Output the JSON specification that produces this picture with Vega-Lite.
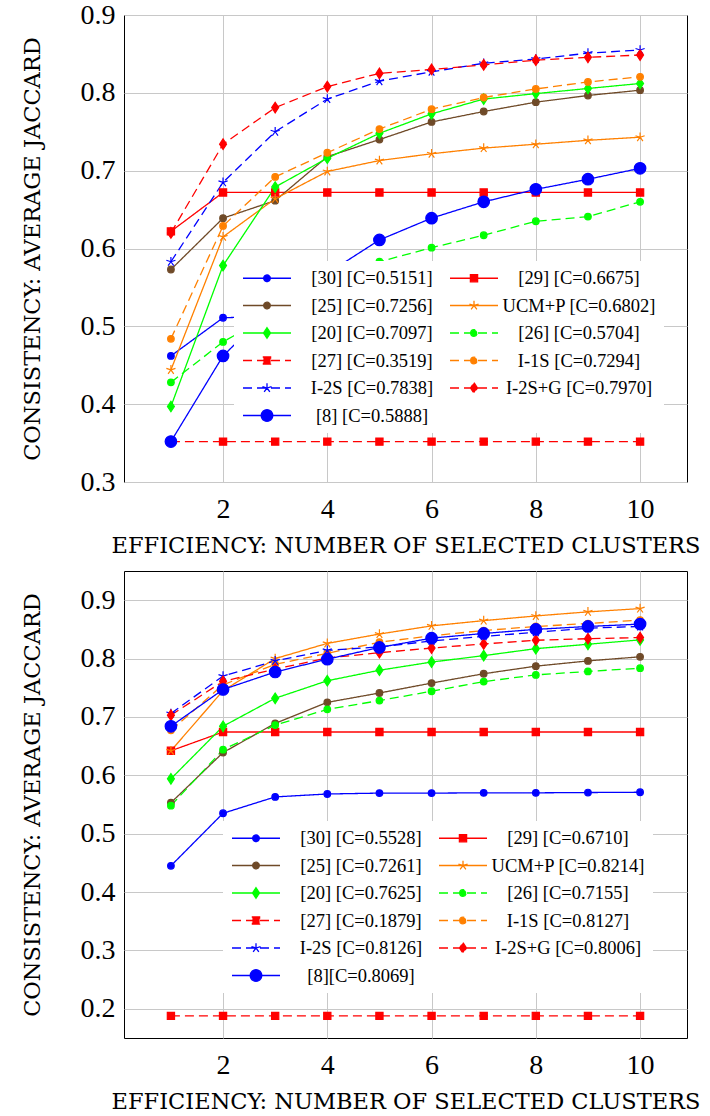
{
  "$schema": "https://vega.github.io/schema/vega-lite/v6.json",
  "padding": {"left": 20, "top": 0, "right": 0, "bottom": 0},
  "spacing": 13,
  "datasets": {
    "top": [
      {"s":"[30]","x":1,"y":0.462},{"s":"[30]","x":2,"y":0.511},{"s":"[30]","x":3,"y":0.513},{"s":"[30]","x":4,"y":0.517},{"s":"[30]","x":5,"y":0.52},{"s":"[30]","x":6,"y":0.522},{"s":"[30]","x":7,"y":0.524},{"s":"[30]","x":8,"y":0.526},{"s":"[30]","x":9,"y":0.527},{"s":"[30]","x":10,"y":0.529},
      {"s":"[29]","x":1,"y":0.622},{"s":"[29]","x":2,"y":0.672},{"s":"[29]","x":3,"y":0.672},{"s":"[29]","x":4,"y":0.672},{"s":"[29]","x":5,"y":0.672},{"s":"[29]","x":6,"y":0.672},{"s":"[29]","x":7,"y":0.672},{"s":"[29]","x":8,"y":0.672},{"s":"[29]","x":9,"y":0.672},{"s":"[29]","x":10,"y":0.672},
      {"s":"[25]","x":1,"y":0.573},{"s":"[25]","x":2,"y":0.639},{"s":"[25]","x":3,"y":0.6615},{"s":"[25]","x":4,"y":0.718},{"s":"[25]","x":5,"y":0.74},{"s":"[25]","x":6,"y":0.7626},{"s":"[25]","x":7,"y":0.776},{"s":"[25]","x":8,"y":0.788},{"s":"[25]","x":9,"y":0.7966},{"s":"[25]","x":10,"y":0.8034},
      {"s":"UCM+P","x":1,"y":0.444},{"s":"UCM+P","x":2,"y":0.615},{"s":"UCM+P","x":3,"y":0.664},{"s":"UCM+P","x":4,"y":0.699},{"s":"UCM+P","x":5,"y":0.713},{"s":"UCM+P","x":6,"y":0.7217},{"s":"UCM+P","x":7,"y":0.729},{"s":"UCM+P","x":8,"y":0.734},{"s":"UCM+P","x":9,"y":0.739},{"s":"UCM+P","x":10,"y":0.743},
      {"s":"[20]","x":1,"y":0.397},{"s":"[20]","x":2,"y":0.578},{"s":"[20]","x":3,"y":0.679},{"s":"[20]","x":4,"y":0.716},{"s":"[20]","x":5,"y":0.748},{"s":"[20]","x":6,"y":0.773},{"s":"[20]","x":7,"y":0.792},{"s":"[20]","x":8,"y":0.799},{"s":"[20]","x":9,"y":0.8056},{"s":"[20]","x":10,"y":0.812},
      {"s":"[26]","x":1,"y":0.428},{"s":"[26]","x":2,"y":0.48},{"s":"[26]","x":3,"y":0.518},{"s":"[26]","x":4,"y":0.541},{"s":"[26]","x":5,"y":0.583},{"s":"[26]","x":6,"y":0.601},{"s":"[26]","x":7,"y":0.617},{"s":"[26]","x":8,"y":0.635},{"s":"[26]","x":9,"y":0.641},{"s":"[26]","x":10,"y":0.66},
      {"s":"[27]","x":1,"y":0.3519},{"s":"[27]","x":2,"y":0.3519},{"s":"[27]","x":3,"y":0.3519},{"s":"[27]","x":4,"y":0.3519},{"s":"[27]","x":5,"y":0.3519},{"s":"[27]","x":6,"y":0.3519},{"s":"[27]","x":7,"y":0.3519},{"s":"[27]","x":8,"y":0.3519},{"s":"[27]","x":9,"y":0.3519},{"s":"[27]","x":10,"y":0.3519},
      {"s":"I-1S","x":1,"y":0.484},{"s":"I-1S","x":2,"y":0.629},{"s":"I-1S","x":3,"y":0.692},{"s":"I-1S","x":4,"y":0.723},{"s":"I-1S","x":5,"y":0.7535},{"s":"I-1S","x":6,"y":0.779},{"s":"I-1S","x":7,"y":0.794},{"s":"I-1S","x":8,"y":0.805},{"s":"I-1S","x":9,"y":0.814},{"s":"I-1S","x":10,"y":0.8206},
      {"s":"I-2S","x":1,"y":0.583},{"s":"I-2S","x":2,"y":0.685},{"s":"I-2S","x":3,"y":0.75},{"s":"I-2S","x":4,"y":0.792},{"s":"I-2S","x":5,"y":0.815},{"s":"I-2S","x":6,"y":0.827},{"s":"I-2S","x":7,"y":0.838},{"s":"I-2S","x":8,"y":0.8434},{"s":"I-2S","x":9,"y":0.851},{"s":"I-2S","x":10,"y":0.855},
      {"s":"I-2S+G","x":1,"y":0.62},{"s":"I-2S+G","x":2,"y":0.734},{"s":"I-2S+G","x":3,"y":0.781},{"s":"I-2S+G","x":4,"y":0.808},{"s":"I-2S+G","x":5,"y":0.825},{"s":"I-2S+G","x":6,"y":0.83},{"s":"I-2S+G","x":7,"y":0.836},{"s":"I-2S+G","x":8,"y":0.842},{"s":"I-2S+G","x":9,"y":0.8456},{"s":"I-2S+G","x":10,"y":0.8486},
      {"s":"[8]","x":1,"y":0.352},{"s":"[8]","x":2,"y":0.462},{"s":"[8]","x":3,"y":0.528},{"s":"[8]","x":4,"y":0.568},{"s":"[8]","x":5,"y":0.611},{"s":"[8]","x":6,"y":0.639},{"s":"[8]","x":7,"y":0.66},{"s":"[8]","x":8,"y":0.676},{"s":"[8]","x":9,"y":0.689},{"s":"[8]","x":10,"y":0.703}
    ],
    "bottom": [
      {"s":"[30]","x":1,"y":0.445},{"s":"[30]","x":2,"y":0.535},{"s":"[30]","x":3,"y":0.563},{"s":"[30]","x":4,"y":0.568},{"s":"[30]","x":5,"y":0.5695},{"s":"[30]","x":6,"y":0.5695},{"s":"[30]","x":7,"y":0.57},{"s":"[30]","x":8,"y":0.57},{"s":"[30]","x":9,"y":0.5705},{"s":"[30]","x":10,"y":0.571},
      {"s":"[29]","x":1,"y":0.642},{"s":"[29]","x":2,"y":0.6742},{"s":"[29]","x":3,"y":0.6742},{"s":"[29]","x":4,"y":0.6742},{"s":"[29]","x":5,"y":0.6742},{"s":"[29]","x":6,"y":0.6742},{"s":"[29]","x":7,"y":0.6742},{"s":"[29]","x":8,"y":0.6742},{"s":"[29]","x":9,"y":0.6742},{"s":"[29]","x":10,"y":0.6742},
      {"s":"[25]","x":1,"y":0.553},{"s":"[25]","x":2,"y":0.639},{"s":"[25]","x":3,"y":0.689},{"s":"[25]","x":4,"y":0.725},{"s":"[25]","x":5,"y":0.741},{"s":"[25]","x":6,"y":0.758},{"s":"[25]","x":7,"y":0.774},{"s":"[25]","x":8,"y":0.787},{"s":"[25]","x":9,"y":0.796},{"s":"[25]","x":10,"y":0.803},
      {"s":"UCM+P","x":1,"y":0.642},{"s":"UCM+P","x":2,"y":0.745},{"s":"UCM+P","x":3,"y":0.8},{"s":"UCM+P","x":4,"y":0.826},{"s":"UCM+P","x":5,"y":0.842},{"s":"UCM+P","x":6,"y":0.856},{"s":"UCM+P","x":7,"y":0.865},{"s":"UCM+P","x":8,"y":0.873},{"s":"UCM+P","x":9,"y":0.88},{"s":"UCM+P","x":10,"y":0.8856},
      {"s":"[20]","x":1,"y":0.594},{"s":"[20]","x":2,"y":0.684},{"s":"[20]","x":3,"y":0.732},{"s":"[20]","x":4,"y":0.762},{"s":"[20]","x":5,"y":0.78},{"s":"[20]","x":6,"y":0.794},{"s":"[20]","x":7,"y":0.805},{"s":"[20]","x":8,"y":0.817},{"s":"[20]","x":9,"y":0.8245},{"s":"[20]","x":10,"y":0.832},
      {"s":"[26]","x":1,"y":0.548},{"s":"[26]","x":2,"y":0.644},{"s":"[26]","x":3,"y":0.686},{"s":"[26]","x":4,"y":0.713},{"s":"[26]","x":5,"y":0.728},{"s":"[26]","x":6,"y":0.744},{"s":"[26]","x":7,"y":0.7605},{"s":"[26]","x":8,"y":0.772},{"s":"[26]","x":9,"y":0.778},{"s":"[26]","x":10,"y":0.7835},
      {"s":"[27]","x":1,"y":0.1879},{"s":"[27]","x":2,"y":0.1879},{"s":"[27]","x":3,"y":0.1879},{"s":"[27]","x":4,"y":0.1879},{"s":"[27]","x":5,"y":0.1879},{"s":"[27]","x":6,"y":0.1879},{"s":"[27]","x":7,"y":0.1879},{"s":"[27]","x":8,"y":0.1879},{"s":"[27]","x":9,"y":0.1879},{"s":"[27]","x":10,"y":0.1879},
      {"s":"I-1S","x":1,"y":0.677},{"s":"I-1S","x":2,"y":0.755},{"s":"I-1S","x":3,"y":0.79},{"s":"I-1S","x":4,"y":0.809},{"s":"I-1S","x":5,"y":0.828},{"s":"I-1S","x":6,"y":0.839},{"s":"I-1S","x":7,"y":0.848},{"s":"I-1S","x":8,"y":0.855},{"s":"I-1S","x":9,"y":0.86},{"s":"I-1S","x":10,"y":0.866},
      {"s":"I-2S","x":1,"y":0.706},{"s":"I-2S","x":2,"y":0.77},{"s":"I-2S","x":3,"y":0.796},{"s":"I-2S","x":4,"y":0.814},{"s":"I-2S","x":5,"y":0.82},{"s":"I-2S","x":6,"y":0.83},{"s":"I-2S","x":7,"y":0.838},{"s":"I-2S","x":8,"y":0.845},{"s":"I-2S","x":9,"y":0.852},{"s":"I-2S","x":10,"y":0.855},
      {"s":"I-2S+G","x":1,"y":0.703},{"s":"I-2S+G","x":2,"y":0.761},{"s":"I-2S+G","x":3,"y":0.782},{"s":"I-2S+G","x":4,"y":0.801},{"s":"I-2S+G","x":5,"y":0.81},{"s":"I-2S+G","x":6,"y":0.818},{"s":"I-2S+G","x":7,"y":0.825},{"s":"I-2S+G","x":8,"y":0.8314},{"s":"I-2S+G","x":9,"y":0.834},{"s":"I-2S+G","x":10,"y":0.836},
      {"s":"[8]","x":1,"y":0.684},{"s":"[8]","x":2,"y":0.747},{"s":"[8]","x":3,"y":0.777},{"s":"[8]","x":4,"y":0.799},{"s":"[8]","x":5,"y":0.819},{"s":"[8]","x":6,"y":0.835},{"s":"[8]","x":7,"y":0.843},{"s":"[8]","x":8,"y":0.85},{"s":"[8]","x":9,"y":0.855},{"s":"[8]","x":10,"y":0.859}
    ]
  },
  "vconcat": [
    {
      "width": 563, "height": 467,
      "data": {"name": "top"},
      "resolve": {"scale": {"shape": "independent"}, "legend": {"fill": "independent", "stroke": "independent", "shape": "independent", "strokeDash": "independent", "color": "independent"}},
      "encoding": {
        "x": {"field": "x", "type": "quantitative", "scale": {"domain": [0.1, 10.9], "nice": false, "zero": false}, "axis": {"values": [2,4,6,8,10], "title": "EFFICIENCY: NUMBER OF SELECTED CLUSTERS"}},
        "y": {"field": "y", "type": "quantitative", "scale": {"domain": [0.3, 0.9], "nice": false, "zero": false}, "axis": {"values": [0.3,0.4,0.5,0.6,0.7,0.8,0.9], "format": ".1f", "title": "CONSISTENCY: AVERAGE JACCARD"}}
      },
      "layer": [
        {
          "mark": {"type": "line", "strokeWidth": 1.3},
          "encoding": {
            "color": {"field": "s", "type": "nominal", "legend": null, "scale": {"domain": ["[30]","[29]","[25]","UCM+P","[20]","[26]","[27]","I-1S","I-2S","I-2S+G","[8]"], "range": ["#0000ff","#ff0000","#6f4a28","#ff8000","#00ff00","#00ff00","#ff0000","#ff8000","#0000ff","#ff0000","#0000ff"]}},
            "strokeDash": {"field": "s", "type": "nominal", "legend": null, "scale": {"domain": ["[30]","[29]","[25]","UCM+P","[20]","[26]","[27]","I-1S","I-2S","I-2S+G","[8]"], "range": [[1,0],[1,0],[1,0],[1,0],[1,0],[9,5],[9,5],[9,5],[9,5],[9,5],[1,0]]}}
          }
        },
        {
          "mark": {"type": "point", "filled": true, "size": 2304, "strokeWidth": 1.2, "opacity": 1},
          "encoding": {
            "fill": {"field": "s", "type": "nominal", "legend": null, "scale": {"domain": ["[30]","[29]","[25]","UCM+P","[20]","[26]","[27]","I-1S","I-2S","I-2S+G","[8]"], "range": ["#0000ff","#ff0000","#6f4a28","#ff8000","#00ff00","#00ff00","#ff0000","#ff8000","#0000ff","#ff0000","#0000ff"]}},
            "stroke": {"field": "s", "type": "nominal", "legend": null, "scale": {"domain": ["[30]","[29]","[25]","UCM+P","[20]","[26]","[27]","I-1S","I-2S","I-2S+G","[8]"], "range": ["#0000ff","#ff0000","#6f4a28","#ff8000","#00ff00","#00ff00","#ff0000","#ff8000","#0000ff","#ff0000","#0000ff"]}},
            "shape": {"field": "s", "type": "nominal", "legend": null, "scale": {"domain": ["[30]","[29]","[25]","UCM+P","[20]","[26]","[27]","I-1S","I-2S","I-2S+G","[8]"], "range": [
              "M-0.1375,0A0.1375,0.1375,0,1,0,0.1375,0A0.1375,0.1375,0,1,0,-0.1375,0Z",
              "M-0.15,-0.15H0.15V0.15H-0.15Z",
              "M-0.1375,0A0.1375,0.1375,0,1,0,0.1375,0A0.1375,0.1375,0,1,0,-0.1375,0Z",
              "M0,0L0,-0.2M0,0L0.19,-0.062M0,0L0.118,0.162M0,0L-0.118,0.162M0,0L-0.19,-0.062",
              "M0,-0.22L0.145,0L0,0.22L-0.145,0Z",
              "M-0.1375,0A0.1375,0.1375,0,1,0,0.1375,0A0.1375,0.1375,0,1,0,-0.1375,0Z",
              "M-0.15,-0.15H0.15V0.15H-0.15Z",
              "M-0.1375,0A0.1375,0.1375,0,1,0,0.1375,0A0.1375,0.1375,0,1,0,-0.1375,0Z",
              "M0,0L0,-0.2M0,0L0.19,-0.062M0,0L0.118,0.162M0,0L-0.118,0.162M0,0L-0.19,-0.062",
              "M0,-0.22L0.145,0L0,0.22L-0.145,0Z",
              "M-0.24,0A0.24,0.24,0,1,0,0.24,0A0.24,0.24,0,1,0,-0.24,0Z"
            ]}}
          }
        },
        {
          "mark": {"type": "point", "filled": true, "size": 2304, "opacity": 0},
          "encoding": {
            "fill": {"field": "s", "type": "nominal", "scale": {"domain": ["[30]","[29]","[25]","UCM+P","[20]","[26]","[27]","I-1S","I-2S","I-2S+G","[8]"], "range": ["#0000ff","#ff0000","#6f4a28","#ff8000","#00ff00","#00ff00","#ff0000","#ff8000","#0000ff","#ff0000","#0000ff"]},
              "legend": {"title": null, "orient": "none", "direction": "horizontal", "legendX": 110, "legendY": 246, "columns": 2, "columnPadding": 15, "rowPadding": 8.5, "clipHeight": 18, "padding": 8, "fillColor": "white", "symbolSize": 2304, "symbolStrokeWidth": 1.3, "symbolOpacity": 1, "labelFont": "Liberation Serif", "labelFontSize": 18.5, "labelColor": "black", "labelAlign": "center", "labelOffset": 80, "labelLimit": 400, "zindex": 1,
                "labelExpr": "['[30] [C=0.5151]','[29] [C=0.6675]','[25] [C=0.7256]','UCM+P [C=0.6802]','[20] [C=0.7097]','[26] [C=0.5704]','[27] [C=0.3519]','I-1S [C=0.7294]','I-2S [C=0.7838]','I-2S+G [C=0.7970]','[8] [C=0.5888]'][indexof(['[30]','[29]','[25]','UCM+P','[20]','[26]','[27]','I-1S','I-2S','I-2S+G','[8]'], datum.label)]"}},
            "stroke": {"field": "s", "type": "nominal", "scale": {"domain": ["[30]","[29]","[25]","UCM+P","[20]","[26]","[27]","I-1S","I-2S","I-2S+G","[8]"], "range": ["#0000ff","#ff0000","#6f4a28","#ff8000","#00ff00","#00ff00","#ff0000","#ff8000","#0000ff","#ff0000","#0000ff"]},
              "legend": {"title": null, "orient": "none", "direction": "horizontal", "legendX": 110, "legendY": 246, "columns": 2, "columnPadding": 15, "rowPadding": 8.5, "clipHeight": 18, "padding": 8, "fillColor": "white", "symbolSize": 2304, "symbolStrokeWidth": 1.3, "symbolOpacity": 1, "labelFont": "Liberation Serif", "labelFontSize": 18.5, "labelColor": "black", "labelAlign": "center", "labelOffset": 80, "labelLimit": 400, "zindex": 1,
                "labelExpr": "['[30] [C=0.5151]','[29] [C=0.6675]','[25] [C=0.7256]','UCM+P [C=0.6802]','[20] [C=0.7097]','[26] [C=0.5704]','[27] [C=0.3519]','I-1S [C=0.7294]','I-2S [C=0.7838]','I-2S+G [C=0.7970]','[8] [C=0.5888]'][indexof(['[30]','[29]','[25]','UCM+P','[20]','[26]','[27]','I-1S','I-2S','I-2S+G','[8]'], datum.label)]"}},
            "strokeDash": {"field": "s", "type": "nominal", "scale": {"domain": ["[30]","[29]","[25]","UCM+P","[20]","[26]","[27]","I-1S","I-2S","I-2S+G","[8]"], "range": [[1,0],[1,0],[1,0],[1,0],[1,0],[9,5],[9,5],[9,5],[9,5],[9,5],[1,0]]},
              "legend": {"title": null, "orient": "none", "direction": "horizontal", "legendX": 110, "legendY": 246, "columns": 2, "columnPadding": 15, "rowPadding": 8.5, "clipHeight": 18, "padding": 8, "fillColor": "white", "symbolSize": 2304, "symbolStrokeWidth": 1.3, "symbolOpacity": 1, "labelFont": "Liberation Serif", "labelFontSize": 18.5, "labelColor": "black", "labelAlign": "center", "labelOffset": 80, "labelLimit": 400, "zindex": 1,
                "labelExpr": "['[30] [C=0.5151]','[29] [C=0.6675]','[25] [C=0.7256]','UCM+P [C=0.6802]','[20] [C=0.7097]','[26] [C=0.5704]','[27] [C=0.3519]','I-1S [C=0.7294]','I-2S [C=0.7838]','I-2S+G [C=0.7970]','[8] [C=0.5888]'][indexof(['[30]','[29]','[25]','UCM+P','[20]','[26]','[27]','I-1S','I-2S','I-2S+G','[8]'], datum.label)]"}},
            "shape": {"field": "s", "type": "nominal", "scale": {"domain": ["[30]","[29]","[25]","UCM+P","[20]","[26]","[27]","I-1S","I-2S","I-2S+G","[8]"], "range": [
              "M-1,0H1M-0.1375,0A0.1375,0.1375,0,1,0,0.1375,0A0.1375,0.1375,0,1,0,-0.1375,0Z",
              "M-1,0H1M-0.15,-0.15H0.15V0.15H-0.15Z",
              "M-1,0H1M-0.1375,0A0.1375,0.1375,0,1,0,0.1375,0A0.1375,0.1375,0,1,0,-0.1375,0Z",
              "M-1,0H1M0,0L0,-0.2M0,0L0.19,-0.062M0,0L0.118,0.162M0,0L-0.118,0.162M0,0L-0.19,-0.062",
              "M-1,0H1M0,-0.22L0.145,0L0,0.22L-0.145,0Z",
              "M-1,0H1M-0.1375,0A0.1375,0.1375,0,1,0,0.1375,0A0.1375,0.1375,0,1,0,-0.1375,0Z",
              "M-1,0H1M-0.15,-0.15H0.15V0.15H-0.15Z",
              "M-1,0H1M-0.1375,0A0.1375,0.1375,0,1,0,0.1375,0A0.1375,0.1375,0,1,0,-0.1375,0Z",
              "M-1,0H1M0,0L0,-0.2M0,0L0.19,-0.062M0,0L0.118,0.162M0,0L-0.118,0.162M0,0L-0.19,-0.062",
              "M-1,0H1M0,-0.22L0.145,0L0,0.22L-0.145,0Z",
              "M-1,0H1M-0.24,0A0.24,0.24,0,1,0,0.24,0A0.24,0.24,0,1,0,-0.24,0Z"
            ]},
              "legend": {"title": null, "orient": "none", "direction": "horizontal", "legendX": 110, "legendY": 246, "columns": 2, "columnPadding": 15, "rowPadding": 8.5, "clipHeight": 18, "padding": 8, "fillColor": "white", "symbolSize": 2304, "symbolStrokeWidth": 1.3, "symbolOpacity": 1, "labelFont": "Liberation Serif", "labelFontSize": 18.5, "labelColor": "black", "labelAlign": "center", "labelOffset": 80, "labelLimit": 400, "zindex": 1,
                "labelExpr": "['[30] [C=0.5151]','[29] [C=0.6675]','[25] [C=0.7256]','UCM+P [C=0.6802]','[20] [C=0.7097]','[26] [C=0.5704]','[27] [C=0.3519]','I-1S [C=0.7294]','I-2S [C=0.7838]','I-2S+G [C=0.7970]','[8] [C=0.5888]'][indexof(['[30]','[29]','[25]','UCM+P','[20]','[26]','[27]','I-1S','I-2S','I-2S+G','[8]'], datum.label)]"}}
          }
        }
      ]
    },
    {
      "width": 563, "height": 467,
      "data": {"name": "bottom"},
      "resolve": {"scale": {"shape": "independent"}, "legend": {"fill": "independent", "stroke": "independent", "shape": "independent", "strokeDash": "independent", "color": "independent"}},
      "encoding": {
        "x": {"field": "x", "type": "quantitative", "scale": {"domain": [0.1, 10.9], "nice": false, "zero": false}, "axis": {"values": [2,4,6,8,10], "title": "EFFICIENCY: NUMBER OF SELECTED CLUSTERS"}},
        "y": {"field": "y", "type": "quantitative", "scale": {"domain": [0.15, 0.95], "nice": false, "zero": false}, "axis": {"values": [0.2,0.3,0.4,0.5,0.6,0.7,0.8,0.9], "format": ".1f", "title": "CONSISTENCY: AVERAGE JACCARD"}}
      },
      "layer": [
        {
          "mark": {"type": "line", "strokeWidth": 1.3},
          "encoding": {
            "color": {"field": "s", "type": "nominal", "legend": null, "scale": {"domain": ["[30]","[29]","[25]","UCM+P","[20]","[26]","[27]","I-1S","I-2S","I-2S+G","[8]"], "range": ["#0000ff","#ff0000","#6f4a28","#ff8000","#00ff00","#00ff00","#ff0000","#ff8000","#0000ff","#ff0000","#0000ff"]}},
            "strokeDash": {"field": "s", "type": "nominal", "legend": null, "scale": {"domain": ["[30]","[29]","[25]","UCM+P","[20]","[26]","[27]","I-1S","I-2S","I-2S+G","[8]"], "range": [[1,0],[1,0],[1,0],[1,0],[1,0],[9,5],[9,5],[9,5],[9,5],[9,5],[1,0]]}}
          }
        },
        {
          "mark": {"type": "point", "filled": true, "size": 2304, "strokeWidth": 1.2, "opacity": 1},
          "encoding": {
            "fill": {"field": "s", "type": "nominal", "legend": null, "scale": {"domain": ["[30]","[29]","[25]","UCM+P","[20]","[26]","[27]","I-1S","I-2S","I-2S+G","[8]"], "range": ["#0000ff","#ff0000","#6f4a28","#ff8000","#00ff00","#00ff00","#ff0000","#ff8000","#0000ff","#ff0000","#0000ff"]}},
            "stroke": {"field": "s", "type": "nominal", "legend": null, "scale": {"domain": ["[30]","[29]","[25]","UCM+P","[20]","[26]","[27]","I-1S","I-2S","I-2S+G","[8]"], "range": ["#0000ff","#ff0000","#6f4a28","#ff8000","#00ff00","#00ff00","#ff0000","#ff8000","#0000ff","#ff0000","#0000ff"]}},
            "shape": {"field": "s", "type": "nominal", "legend": null, "scale": {"domain": ["[30]","[29]","[25]","UCM+P","[20]","[26]","[27]","I-1S","I-2S","I-2S+G","[8]"], "range": [
              "M-0.1375,0A0.1375,0.1375,0,1,0,0.1375,0A0.1375,0.1375,0,1,0,-0.1375,0Z",
              "M-0.15,-0.15H0.15V0.15H-0.15Z",
              "M-0.1375,0A0.1375,0.1375,0,1,0,0.1375,0A0.1375,0.1375,0,1,0,-0.1375,0Z",
              "M0,0L0,-0.2M0,0L0.19,-0.062M0,0L0.118,0.162M0,0L-0.118,0.162M0,0L-0.19,-0.062",
              "M0,-0.22L0.145,0L0,0.22L-0.145,0Z",
              "M-0.1375,0A0.1375,0.1375,0,1,0,0.1375,0A0.1375,0.1375,0,1,0,-0.1375,0Z",
              "M-0.15,-0.15H0.15V0.15H-0.15Z",
              "M-0.1375,0A0.1375,0.1375,0,1,0,0.1375,0A0.1375,0.1375,0,1,0,-0.1375,0Z",
              "M0,0L0,-0.2M0,0L0.19,-0.062M0,0L0.118,0.162M0,0L-0.118,0.162M0,0L-0.19,-0.062",
              "M0,-0.22L0.145,0L0,0.22L-0.145,0Z",
              "M-0.24,0A0.24,0.24,0,1,0,0.24,0A0.24,0.24,0,1,0,-0.24,0Z"
            ]}}
          }
        },
        {
          "mark": {"type": "point", "filled": true, "size": 2304, "opacity": 0},
          "encoding": {
            "fill": {"field": "s", "type": "nominal", "scale": {"domain": ["[30]","[29]","[25]","UCM+P","[20]","[26]","[27]","I-1S","I-2S","I-2S+G","[8]"], "range": ["#0000ff","#ff0000","#6f4a28","#ff8000","#00ff00","#00ff00","#ff0000","#ff8000","#0000ff","#ff0000","#0000ff"]},
              "legend": {"title": null, "orient": "none", "direction": "horizontal", "legendX": 99, "legendY": 250, "columns": 2, "columnPadding": 15, "rowPadding": 8.5, "clipHeight": 18, "padding": 8, "fillColor": "white", "symbolSize": 2304, "symbolStrokeWidth": 1.3, "symbolOpacity": 1, "labelFont": "Liberation Serif", "labelFontSize": 18.5, "labelColor": "black", "labelAlign": "center", "labelOffset": 80, "labelLimit": 400, "zindex": 1,
                "labelExpr": "['[30] [C=0.5528]','[29] [C=0.6710]','[25] [C=0.7261]','UCM+P [C=0.8214]','[20] [C=0.7625]','[26] [C=0.7155]','[27] [C=0.1879]','I-1S [C=0.8127]','I-2S [C=0.8126]','I-2S+G [C=0.8006]','[8][C=0.8069]'][indexof(['[30]','[29]','[25]','UCM+P','[20]','[26]','[27]','I-1S','I-2S','I-2S+G','[8]'], datum.label)]"}},
            "stroke": {"field": "s", "type": "nominal", "scale": {"domain": ["[30]","[29]","[25]","UCM+P","[20]","[26]","[27]","I-1S","I-2S","I-2S+G","[8]"], "range": ["#0000ff","#ff0000","#6f4a28","#ff8000","#00ff00","#00ff00","#ff0000","#ff8000","#0000ff","#ff0000","#0000ff"]},
              "legend": {"title": null, "orient": "none", "direction": "horizontal", "legendX": 99, "legendY": 250, "columns": 2, "columnPadding": 15, "rowPadding": 8.5, "clipHeight": 18, "padding": 8, "fillColor": "white", "symbolSize": 2304, "symbolStrokeWidth": 1.3, "symbolOpacity": 1, "labelFont": "Liberation Serif", "labelFontSize": 18.5, "labelColor": "black", "labelAlign": "center", "labelOffset": 80, "labelLimit": 400, "zindex": 1,
                "labelExpr": "['[30] [C=0.5528]','[29] [C=0.6710]','[25] [C=0.7261]','UCM+P [C=0.8214]','[20] [C=0.7625]','[26] [C=0.7155]','[27] [C=0.1879]','I-1S [C=0.8127]','I-2S [C=0.8126]','I-2S+G [C=0.8006]','[8][C=0.8069]'][indexof(['[30]','[29]','[25]','UCM+P','[20]','[26]','[27]','I-1S','I-2S','I-2S+G','[8]'], datum.label)]"}},
            "strokeDash": {"field": "s", "type": "nominal", "scale": {"domain": ["[30]","[29]","[25]","UCM+P","[20]","[26]","[27]","I-1S","I-2S","I-2S+G","[8]"], "range": [[1,0],[1,0],[1,0],[1,0],[1,0],[9,5],[9,5],[9,5],[9,5],[9,5],[1,0]]},
              "legend": {"title": null, "orient": "none", "direction": "horizontal", "legendX": 99, "legendY": 250, "columns": 2, "columnPadding": 15, "rowPadding": 8.5, "clipHeight": 18, "padding": 8, "fillColor": "white", "symbolSize": 2304, "symbolStrokeWidth": 1.3, "symbolOpacity": 1, "labelFont": "Liberation Serif", "labelFontSize": 18.5, "labelColor": "black", "labelAlign": "center", "labelOffset": 80, "labelLimit": 400, "zindex": 1,
                "labelExpr": "['[30] [C=0.5528]','[29] [C=0.6710]','[25] [C=0.7261]','UCM+P [C=0.8214]','[20] [C=0.7625]','[26] [C=0.7155]','[27] [C=0.1879]','I-1S [C=0.8127]','I-2S [C=0.8126]','I-2S+G [C=0.8006]','[8][C=0.8069]'][indexof(['[30]','[29]','[25]','UCM+P','[20]','[26]','[27]','I-1S','I-2S','I-2S+G','[8]'], datum.label)]"}},
            "shape": {"field": "s", "type": "nominal", "scale": {"domain": ["[30]","[29]","[25]","UCM+P","[20]","[26]","[27]","I-1S","I-2S","I-2S+G","[8]"], "range": [
              "M-1,0H1M-0.1375,0A0.1375,0.1375,0,1,0,0.1375,0A0.1375,0.1375,0,1,0,-0.1375,0Z",
              "M-1,0H1M-0.15,-0.15H0.15V0.15H-0.15Z",
              "M-1,0H1M-0.1375,0A0.1375,0.1375,0,1,0,0.1375,0A0.1375,0.1375,0,1,0,-0.1375,0Z",
              "M-1,0H1M0,0L0,-0.2M0,0L0.19,-0.062M0,0L0.118,0.162M0,0L-0.118,0.162M0,0L-0.19,-0.062",
              "M-1,0H1M0,-0.22L0.145,0L0,0.22L-0.145,0Z",
              "M-1,0H1M-0.1375,0A0.1375,0.1375,0,1,0,0.1375,0A0.1375,0.1375,0,1,0,-0.1375,0Z",
              "M-1,0H1M-0.15,-0.15H0.15V0.15H-0.15Z",
              "M-1,0H1M-0.1375,0A0.1375,0.1375,0,1,0,0.1375,0A0.1375,0.1375,0,1,0,-0.1375,0Z",
              "M-1,0H1M0,0L0,-0.2M0,0L0.19,-0.062M0,0L0.118,0.162M0,0L-0.118,0.162M0,0L-0.19,-0.062",
              "M-1,0H1M0,-0.22L0.145,0L0,0.22L-0.145,0Z",
              "M-1,0H1M-0.24,0A0.24,0.24,0,1,0,0.24,0A0.24,0.24,0,1,0,-0.24,0Z"
            ]},
              "legend": {"title": null, "orient": "none", "direction": "horizontal", "legendX": 99, "legendY": 250, "columns": 2, "columnPadding": 15, "rowPadding": 8.5, "clipHeight": 18, "padding": 8, "fillColor": "white", "symbolSize": 2304, "symbolStrokeWidth": 1.3, "symbolOpacity": 1, "labelFont": "Liberation Serif", "labelFontSize": 18.5, "labelColor": "black", "labelAlign": "center", "labelOffset": 80, "labelLimit": 400, "zindex": 1,
                "labelExpr": "['[30] [C=0.5528]','[29] [C=0.6710]','[25] [C=0.7261]','UCM+P [C=0.8214]','[20] [C=0.7625]','[26] [C=0.7155]','[27] [C=0.1879]','I-1S [C=0.8127]','I-2S [C=0.8126]','I-2S+G [C=0.8006]','[8][C=0.8069]'][indexof(['[30]','[29]','[25]','UCM+P','[20]','[26]','[27]','I-1S','I-2S','I-2S+G','[8]'], datum.label)]"}}
          }
        }
      ]
    }
  ],
  "config": {
    "view": {"stroke": "black", "strokeWidth": 1},
    "axis": {"grid": true, "gridColor": "#c8c8c8", "gridWidth": 1, "domain": false, "ticks": false, "labelFont": "Liberation Serif", "labelFontSize": 28, "labelColor": "black", "labelFlush": false, "titleFont": "DejaVu Serif", "titleFontSize": 22.5, "titleFontWeight": "normal", "titleColor": "black"},
    "axisX": {"labelPadding": 13, "titlePadding": 11},
    "axisY": {"labelPadding": 9, "titlePadding": 36}
  }
}
